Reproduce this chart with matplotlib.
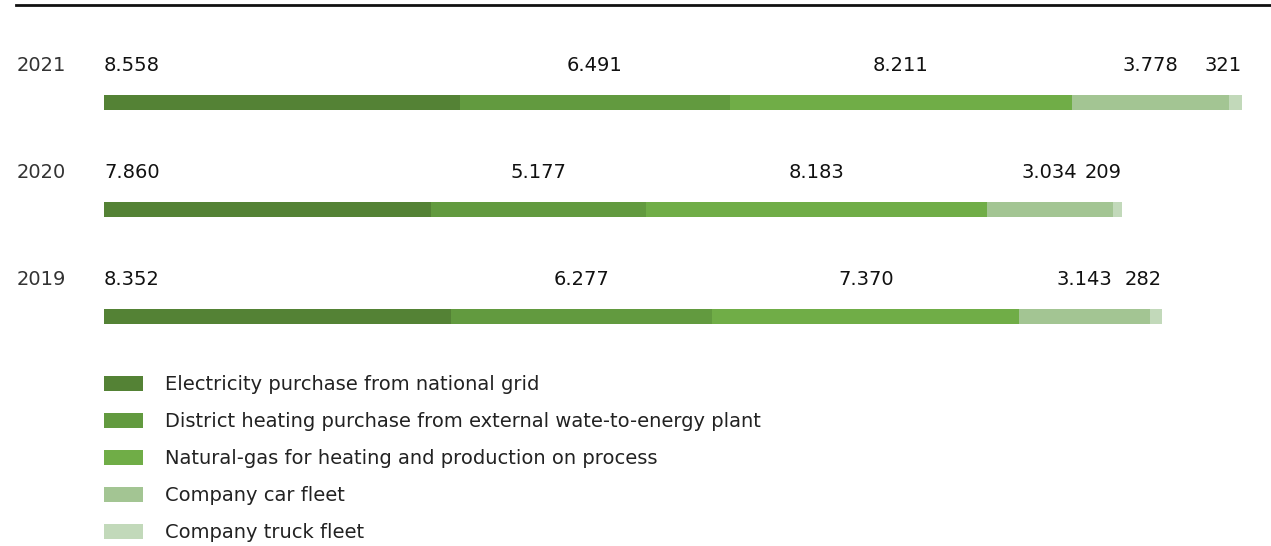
import matplotlib.pyplot as plt
from matplotlib.patches import Patch
import matplotlib.transforms as mtransforms

plt.rcParams['font.family'] = ['DejaVu Sans']

years = ['2021', '2020', '2019']
sources = [
    'Electricity purchase from national grid',
    'District heating purchase from external wate-to-energy plant',
    'Natural-gas for heating and production on process',
    'Company car fleet',
    'Company truck fleet',
]
# values per source, ordered like years
electricity = [8558, 7860, 8352]
district_heating = [6491, 5177, 6277]
natural_gas = [8211, 8183, 7370]
car_fleet = [3778, 3034, 3143]
truck_fleet = [321, 209, 282]
series = [electricity, district_heating, natural_gas, car_fleet, truck_fleet]
colors = ['#548235', '#629a3f', '#70ad47', '#a3c593', '#c2d9ba']

W, H = 1271, 546
fig = plt.figure(figsize=(W / 100, H / 100), dpi=100)

totals = [sum(s[i] for s in series) for i in range(len(years))]
xmax = max(totals)
ax = fig.add_axes([104 / W, 0, 1138 / W, 1])
ax.set_xlim(0, xmax)
# category i sits at 102.5 + 107*i px from the top
ax.set_ylim((H - 102.5) / 107, -102.5 / 107)
ax.axis('off')

fmt = lambda v: f'{v:,}'.replace(',', '.')
yr_tr = mtransforms.blended_transform_factory(fig.transFigure, ax.transData)

for i, yr in enumerate(years):
    left = 0
    for k, s in enumerate(series):
        v = s[i]
        ax.barh(i, v, left=left, height=0.14, color=colors[k], linewidth=0)
        if k == 0:
            x, ha = left, 'left'
        elif k == len(series) - 1:
            x, ha = left + v, 'right'
        else:
            x, ha = left + v / 2, 'center'
        ax.text(x, i - 0.29, fmt(v), ha=ha, va='baseline', fontsize=14,
                color='#111111')
        left += v
    ax.text(17 / W, i - 0.29, yr, transform=yr_tr, ha='left', va='baseline',
            fontsize=14, color='#333333')

# top rule
fig.add_artist(plt.Line2D([16 / W, 1], [1 - 5 / H, 1 - 5 / H],
                          transform=fig.transFigure, color='#111111', lw=2))

handles = [Patch(facecolor=c, edgecolor='none') for c in colors]
fig.legend(handles, sources, loc='upper left',
           bbox_to_anchor=(104 / W, 1 - 375 / H), frameon=False,
           fontsize=14, handlelength=2.0, handleheight=0.78,
           handletextpad=1.13, labelspacing=0.93, borderpad=0,
           borderaxespad=0, labelcolor='#222222')

fig.savefig('out.png', dpi=100)
